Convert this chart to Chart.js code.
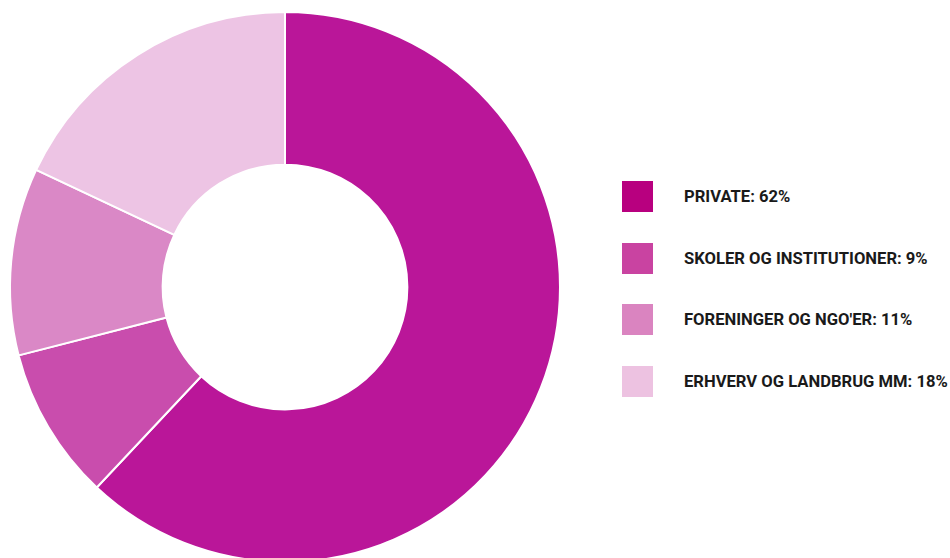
<!DOCTYPE html>
<html lang="da">
  <head>
    <meta charset="UTF-8" />
    <title>Fordeling</title>
    <style>
      html, body {
        margin: 0;
        padding: 0;
        background: #ffffff;
        overflow: hidden;
        width: 950px;
        height: 558px;
      }
      .wrap {
        position: relative;
        width: 950px;
        height: 558px;
      }
      #pieChart {
        position: absolute;
        left: 0;
        top: 0;
      }
      .legend {
        position: absolute;
        left: 622px;
        top: 181px;
        font-family: "Roboto", "Liberation Sans", Arial, sans-serif;
        font-weight: 700;
        font-size: 16.6px;
        color: #1a1a1a;
      }
      .legend .row {
        display: flex;
        align-items: center;
        height: 31px;
        margin-bottom: 30.5px;
        white-space: nowrap;
      }
      .legend .box {
        width: 31px;
        height: 31px;
        margin-right: 31px;
        flex: none;
      }
    </style>
    <script src="https://cdn.jsdelivr.net/npm/chart.js"></script>
  </head>
  <body>
    <div class="wrap">
      <canvas id="pieChart" width="570" height="576"></canvas>
      <div class="legend" id="legend"></div>
    </div>
    <script>
      const categories = [
        "PRIVATE",
        "SKOLER OG INSTITUTIONER",
        "FORENINGER OG NGO'ER",
        "ERHVERV OG LANDBRUG MM",
      ];
      const shares = [62, 9, 11, 18];
      const sliceColors = ["#BA1699", "#C94DAD", "#DA88C6", "#EDC4E4"];
      const legendColors = ["#B8007F", "#C943A1", "#DA84C0", "#EDC2E1"];

      const ctx = document.getElementById("pieChart").getContext("2d");
      new Chart(ctx, {
        type: "doughnut",
        data: {
          labels: categories,
          datasets: [
            {
              data: shares,
              backgroundColor: sliceColors,
              borderColor: "#ffffff",
              borderWidth: 2,
              hoverOffset: 0,
            },
          ],
        },
        options: {
          responsive: false,
          animation: false,
          cutout: "44.5%",
          rotation: 0,
          layout: { padding: { left: 9, right: 9, top: 11, bottom: 13 } },
          plugins: {
            legend: { display: false },
            tooltip: { enabled: false },
          },
        },
      });

      // legend entries beside the ring
      const legend = document.getElementById("legend");
      categories.forEach((name, i) => {
        const row = document.createElement("div");
        row.className = "row";
        const box = document.createElement("div");
        box.className = "box";
        box.style.background = legendColors[i];
        const label = document.createElement("span");
        label.textContent = name + ": " + shares[i] + "%";
        row.appendChild(box);
        row.appendChild(label);
        legend.appendChild(row);
      });
    </script>
  </body>
</html>
